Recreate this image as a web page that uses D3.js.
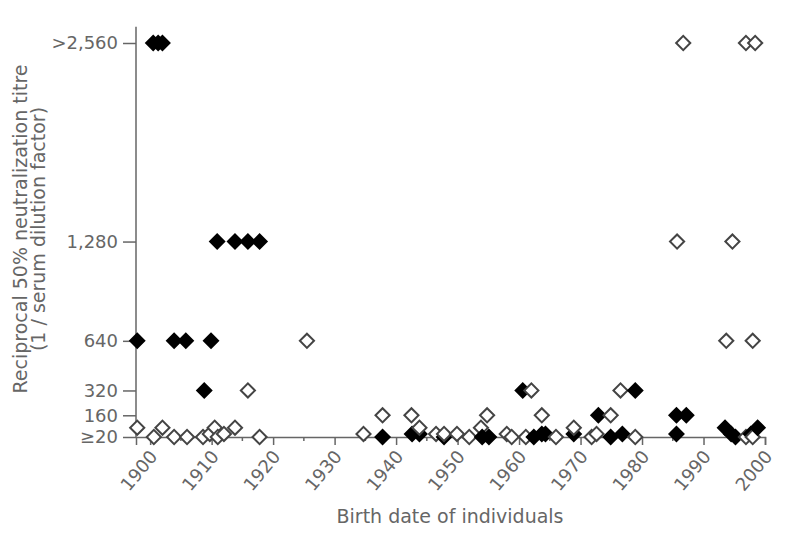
<!DOCTYPE html>
<html>
<head>
<meta charset="utf-8">
<script src="https://cdn.jsdelivr.net/npm/d3@7"></script>
<style>
  body { margin: 0; background: #fff; }
  text { font-family: "DejaVu Sans", sans-serif; fill: #666; }
</style>
</head>
<body>
<script>
// filled diamonds: [birth year, titre]
const filledPoints = [
  [1900.5, 2560], [1901.3, 2560], [1902.0, 2560],
  [1910.9, 1280], [1913.8, 1280], [1915.9, 1280], [1917.8, 1280],
  [1897.9, 640], [1903.9, 640], [1905.8, 640], [1909.9, 640],
  [1908.8, 320], [1960.6, 320], [1978.9, 320],
  [1972.9, 160], [1985.6, 160], [1987.2, 160],
  [1937.8, 20], [1942.6, 40], [1943.8, 40], [1947.8, 20], [1954.0, 20],
  [1955.1, 20], [1962.4, 20], [1963.7, 40], [1964.3, 40], [1968.9, 40],
  [1974.9, 20], [1976.8, 40], [1985.6, 40], [1993.5, 80], [1994.5, 40],
  [1995.2, 20], [1997.7, 40], [1998.8, 80]
];

// open diamonds: [birth year, titre]
const openPoints = [
  [1986.7, 2560], [1996.9, 2560], [1998.4, 2560],
  [1985.7, 1280], [1994.7, 1280],
  [1925.5, 640], [1993.7, 640], [1998.0, 640],
  [1915.9, 320], [1962.0, 320], [1976.5, 320],
  [1937.8, 160], [1942.5, 160], [1954.8, 160], [1963.7, 160], [1974.9, 160],
  [1897.9, 80], [1900.6, 20], [1902.0, 80], [1903.9, 20], [1906.0, 20],
  [1908.6, 20], [1909.7, 40], [1910.5, 80], [1911.0, 20], [1912.0, 40],
  [1913.8, 80], [1917.8, 20],
  [1934.7, 40], [1943.8, 80], [1946.5, 40], [1947.8, 40], [1949.9, 40],
  [1951.9, 20], [1953.8, 80], [1958.0, 40], [1958.8, 20], [1961.1, 20],
  [1966.0, 20], [1968.9, 80], [1971.8, 20], [1972.6, 40], [1978.9, 20],
  [1996.9, 20], [1998.0, 20]
];

const yTickValues = [20, 160, 320, 640, 1280, 2560];
const yTickLabels = ['≥20', '160', '320', '640', '1,280', '>2,560'];
const xTickValues = d3.range(1900, 2001, 10);
const xMinorTicks = d3.range(1905, 2000, 10);

const width = 787, height = 534;

const x = d3.scaleLinear().domain([1897.7, 2000]).range([136, 765]);
const y = d3.scaleLinear().domain([20, 2560]).range([437, 43]);

const svg = d3.select('body').append('svg')
  .attr('width', width)
  .attr('height', height);

// y axis
svg.append('g')
  .attr('transform', `translate(${x(1897.7)},0)`)
  .call(d3.axisLeft(y)
    .tickValues(yTickValues)
    .tickFormat((d, i) => yTickLabels[i])
    .tickSize(13)
    .tickPadding(5))
  .call(g => g.select('.domain').remove())
  .call(g => g.selectAll('line').attr('stroke', '#666').attr('stroke-width', 1.5))
  .call(g => g.selectAll('text').style('font-size', '18px').attr('fill', '#666'));

svg.append('line')
  .attr('x1', x(1897.7)).attr('x2', x(1897.7))
  .attr('y1', y(20)).attr('y2', y(2665))
  .attr('stroke', '#666').attr('stroke-width', 1.5);

// x axis
svg.append('g')
  .attr('transform', `translate(0,${y(20)})`)
  .call(d3.axisBottom(x)
    .tickValues(xTickValues)
    .tickFormat(d3.format('d'))
    .tickSizeOuter(0)
    .tickSize(8))
  .call(g => g.select('.domain').attr('stroke', '#666').attr('stroke-width', 1.5))
  .call(g => g.selectAll('line').attr('stroke', '#666').attr('stroke-width', 1.5))
  .call(g => g.selectAll('text')
    .style('font-size', '18px')
    .attr('fill', '#666')
    .attr('text-anchor', 'end')
    .attr('x', 0).attr('y', 0).attr('dy', '0.35em')
    .attr('transform', 'translate(3,16) rotate(-50)'));

svg.append('g')
  .selectAll('line')
  .data(xMinorTicks)
  .join('line')
  .attr('x1', d => x(d)).attr('x2', d => x(d))
  .attr('y1', y(20)).attr('y2', y(20) + 4)
  .attr('stroke', '#666').attr('stroke-width', 1.5);

// axis titles
svg.append('text')
  .attr('x', 450).attr('y', 523)
  .attr('text-anchor', 'middle')
  .style('font-size', '19px')
  .text('Birth date of individuals');

const yTitle = svg.append('text')
  .attr('transform', 'translate(27,229) rotate(-90)')
  .attr('text-anchor', 'middle')
  .style('font-size', '19px');
yTitle.append('tspan').attr('x', 0).attr('dy', 0).text('Reciprocal 50% neutralization titre');
yTitle.append('tspan').attr('x', 0).attr('dy', 18).text('(1 / serum dilution factor)');

// markers
const allPoints = filledPoints.map(d => ({ year: d[0], titre: d[1], filled: true }))
  .concat(openPoints.map(d => ({ year: d[0], titre: d[1], filled: false })))
  .sort((a, b) => a.year - b.year);

const diamond = d3.symbol().type(d3.symbolSquare).size(100);

svg.append('g')
  .selectAll('path')
  .data(allPoints)
  .join('path')
  .attr('d', diamond)
  .attr('transform', d => `translate(${x(d.year)},${y(d.titre)}) rotate(45)`)
  .attr('fill', d => d.filled ? '#000' : '#fff')
  .attr('stroke', d => d.filled ? '#000' : '#444')
  .attr('stroke-width', 2);
</script>
</body>
</html>
